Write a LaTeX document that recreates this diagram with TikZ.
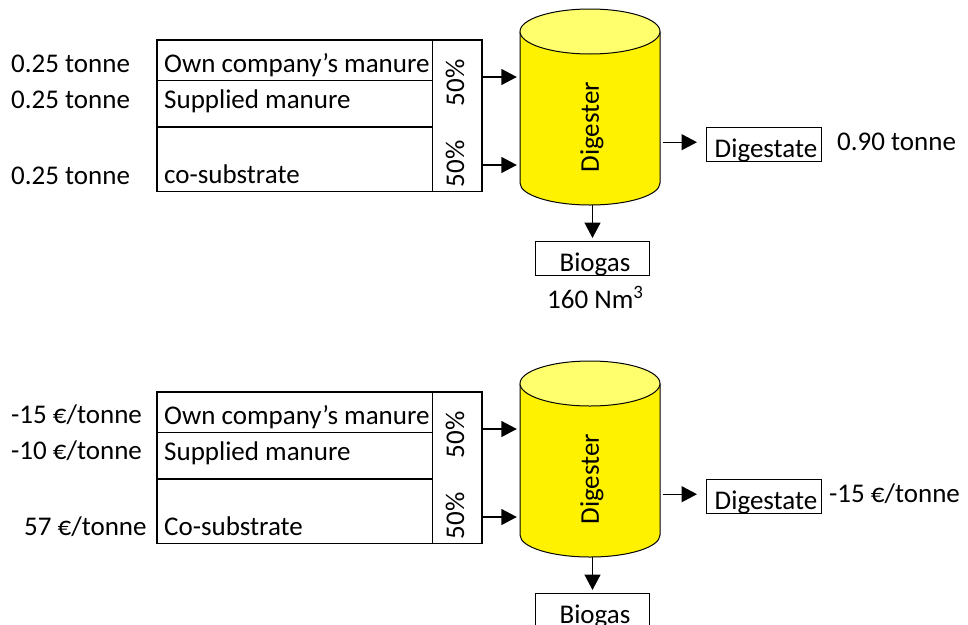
\documentclass[tikz,border=0pt]{standalone}
\usepackage{fontspec}
\setmainfont{Carlito}
\usetikzlibrary{arrows.meta}
\begin{document}
\begin{tikzpicture}[x=1pt,y=-1pt,
  every node/.style={font=\fontsize{27}{31}\selectfont, inner sep=0pt},
  tline/.style={line width=1.1pt, black},
  arr/.style={line width=1.4pt, -{Triangle[length=15.5pt,width=16pt]}},
  outbox/.style={draw, line width=1pt, minimum width=115pt, minimum height=34pt, anchor=north west},
  rot/.style={rotate=90}]
\useasboundingbox (0,0) rectangle (968,624);
\definecolor{cyltop}{HTML}{FFFF6E}

% ---------- top diagram ----------
\begin{scope}
% table
\draw[tline] (157,40) rectangle (482,191.5);
\draw[tline] (432.5,40) -- (432.5,191.5);
\draw[tline] (157,80.7) -- (432.5,80.7);
\draw[tline] (157,127) -- (432.5,127);
\node[anchor=base west] (ta1) at (11,72) {0.25 tonne};
\node[anchor=base west] (ta2) at (11,108) {0.25 tonne};
\node[anchor=base west] (ta3) at (11,184) {0.25 tonne};
\node[anchor=base west] (tb1) at (164,72) {Own company’s manure};
\node[anchor=base west] (tb2) at (164,108) {Supplied manure};
\node[anchor=base west] (tb3) at (164,183) {co-substrate};
\node[rot] (tp1) at (455,83) {50\%};
\node[rot] (tp2) at (455,164) {50\%};
% cylinder
\fill[yellow] (590,183) ellipse[x radius=70pt, y radius=22pt];
\fill[yellow] (520,31.5) rectangle (660,183);
\draw[line width=1pt] (520,31.5) -- (520,183) arc[start angle=180, end angle=360, x radius=70pt, y radius=22pt] -- (660,31.5);
\filldraw[fill=cyltop, line width=1pt] (590,31.5) ellipse[x radius=70pt, y radius=22.5pt];
\node[minimum width=140pt, minimum height=196pt] (dig) at (590,107) {};
\node[rot] (digt) at (592,127) {Digester};
% outputs
\node[outbox] (dgs) at (706,127) {};
\begin{scope}
\clip (dgs.south west) rectangle (dgs.north east);
\node[anchor=base] (dgst) at (766,157) {Digestate};
\end{scope}
\node[anchor=base west] (dgsv) at (837,150) {0.90 tonne};
\node[outbox, minimum width=114pt] (bio) at (535,241) {};
\begin{scope}
\clip (bio.south west) rectangle (bio.north east);
\node[anchor=base] (biot) at (595,271) {Biogas};
\end{scope}
\node[anchor=base west] (biov) at (547,308) {160 Nm\textsuperscript{3}};
% connectors
\coordinate (o1) at (482,77);
\coordinate (o2) at (482,165);
\draw[arr, shorten >=3pt] (o1) -- (o1 -| dig.west);
\draw[arr, shorten >=3pt] (o2) -- (o2 -| dig.west);
\draw[arr, shorten <=3pt, shorten >=9pt] ([yshift=2.3pt]dig.east |- dgs.west) -- ([yshift=2.3pt]dgs.west);
\draw[arr, shorten >=3pt] (bio.north |- dig.south) -- (bio.north);
\end{scope}

% ---------- bottom diagram ----------
\begin{scope}[shift={(0,352)}]
\draw[tline] (157,40) rectangle (482,191.5);
\draw[tline] (432.5,40) -- (432.5,191.5);
\draw[tline] (157,80.7) -- (432.5,80.7);
\draw[tline] (157,127) -- (432.5,127);
\node[anchor=base west] (ba1) at (11,71) {-15 €/tonne};
\node[anchor=base west] (ba2) at (11,107) {-10 €/tonne};
\node[anchor=base west] (ba3) at (24,183) {57 €/tonne};
\node[anchor=base west] (bb1) at (164,72) {Own company’s manure};
\node[anchor=base west] (bb2) at (164,108) {Supplied manure};
\node[anchor=base west] (bb3) at (164,183) {Co-substrate};
\node[rot] (bp1) at (455,83) {50\%};
\node[rot] (bp2) at (455,164) {50\%};
\fill[yellow] (590,183) ellipse[x radius=70pt, y radius=22pt];
\fill[yellow] (520,31.5) rectangle (660,183);
\draw[line width=1pt] (520,31.5) -- (520,183) arc[start angle=180, end angle=360, x radius=70pt, y radius=22pt] -- (660,31.5);
\filldraw[fill=cyltop, line width=1pt] (590,31.5) ellipse[x radius=70pt, y radius=22.5pt];
\node[minimum width=140pt, minimum height=196pt] (bdig) at (590,107) {};
\node[rot] (bdigt) at (592,127) {Digester};
\node[outbox] (bdgs) at (706,127) {};
\begin{scope}
\clip (bdgs.south west) rectangle (bdgs.north east);
\node[anchor=base] (bdgst) at (766,157) {Digestate};
\end{scope}
\node[anchor=base west] (bdgsv) at (829,150) {-15 €/tonne};
\node[outbox, minimum width=114pt] (bbio) at (535,241) {};
\begin{scope}
\clip (bbio.south west) rectangle (bbio.north east);
\node[anchor=base] (bbiot) at (595,271) {Biogas};
\end{scope}
\coordinate (p1) at (482,77);
\coordinate (p2) at (482,165);
\draw[arr, shorten >=3pt] (p1) -- (p1 -| bdig.west);
\draw[arr, shorten >=3pt] (p2) -- (p2 -| bdig.west);
\draw[arr, shorten <=3pt, shorten >=9pt] ([yshift=2.3pt]bdig.east |- bdgs.west) -- ([yshift=2.3pt]bdgs.west);
\draw[arr, shorten >=3pt] (bbio.north |- bdig.south) -- (bbio.north);
\end{scope}
\end{tikzpicture}
\end{document}
